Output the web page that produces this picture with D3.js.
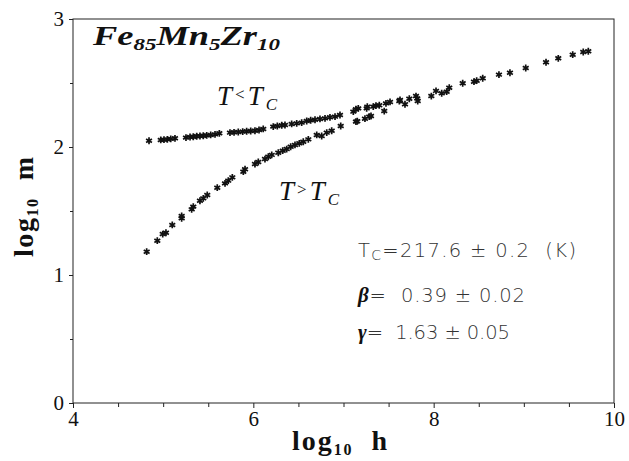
<!DOCTYPE html>
<html><head><meta charset="utf-8">
<script src="https://cdn.jsdelivr.net/npm/d3@7"></script>
<style>body{margin:0;background:#fff}svg{display:block}text{white-space:pre}</style>
</head><body>
<svg id="c" width="629" height="461"></svg>
<script>
// log10 h, log10 m for T<Tc branch
const belowX = [4.843,4.973,5.009,5.046,5.084,5.131,5.253,5.298,5.334,5.372,5.408,5.445,5.483,5.527,5.575,5.623,5.741,5.786,5.833,5.882,5.926,5.971,6.018,6.063,6.110,6.221,6.266,6.315,6.351,6.425,6.481,6.536,6.592,6.636,6.684,6.739,6.795,6.850,6.906,6.961,7.109,7.138,7.164,7.257,7.264,7.330,7.360,7.397,7.471,7.516,7.619,7.627,7.730,7.804,7.818,7.823,7.974,8.026,8.089,8.144,8.173,8.322,8.447,8.477,8.544,8.724,8.846,9.021,9.246,9.382,9.542,9.659,9.715];
const belowY = [2.049,2.055,2.057,2.060,2.063,2.068,2.073,2.078,2.080,2.084,2.086,2.088,2.091,2.094,2.099,2.107,2.112,2.115,2.117,2.120,2.123,2.125,2.127,2.133,2.141,2.159,2.164,2.170,2.172,2.180,2.185,2.190,2.203,2.209,2.213,2.219,2.224,2.232,2.237,2.250,2.276,2.295,2.302,2.302,2.315,2.315,2.323,2.326,2.341,2.352,2.359,2.367,2.377,2.398,2.380,2.359,2.398,2.438,2.420,2.432,2.463,2.498,2.510,2.518,2.537,2.565,2.580,2.617,2.662,2.693,2.721,2.742,2.748];
// T>Tc branch
const aboveX = [4.817,4.935,4.995,5.031,5.101,5.205,5.205,5.316,5.334,5.408,5.445,5.489,5.600,5.686,5.722,5.767,5.889,5.908,6.018,6.055,6.129,6.166,6.204,6.277,6.326,6.370,6.414,6.462,6.510,6.554,6.610,6.703,6.758,6.814,6.869,6.969,7.138,7.153,7.238,7.286,7.305,7.452,7.682];
const aboveY = [1.182,1.268,1.320,1.330,1.391,1.443,1.461,1.513,1.534,1.580,1.599,1.625,1.682,1.716,1.737,1.763,1.807,1.826,1.867,1.883,1.906,1.924,1.938,1.955,1.971,1.984,2.002,2.016,2.029,2.041,2.060,2.094,2.086,2.112,2.127,2.164,2.198,2.201,2.221,2.237,2.242,2.281,2.334];
const xTicks = [4,6,8,10];
const xMinor = [4.5,5,5.5,6.5,7,7.5,8.5,9,9.5];
const yTicks = [0,1,2,3];
const yMinor = [0.5,1.5,2.5];

const svg = d3.select('#c');
const L=73,R=614,T=19,B=403;
const x = d3.scaleLinear().domain([4,10]).range([L,R]);
const y = d3.scaleLinear().domain([0,3]).range([B,T]);
const ink = '#222';
const serif = '"Liberation Serif","DejaVu Serif",serif';

// frame
svg.append('rect').attr('x',L).attr('y',T).attr('width',R-L).attr('height',B-T)
  .attr('fill','none').attr('stroke',ink).attr('stroke-width',1);

function styleAxis(g){
  g.select('.domain').remove();
  g.selectAll('line').attr('stroke',ink);
  g.selectAll('text').attr('font-family',serif).attr('font-size',21).attr('fill','#111');
}
svg.append('g').attr('transform',`translate(0,${B})`)
  .call(d3.axisBottom(x).tickValues(xTicks).tickSize(5).tickPadding(3).tickFormat(d3.format('d')))
  .call(styleAxis);
svg.append('g').attr('transform',`translate(0,${B})`)
  .call(d3.axisBottom(x).tickValues(xMinor).tickSize(4).tickFormat(''))
  .call(styleAxis);
svg.append('g').attr('transform',`translate(${L},0)`)
  .call(d3.axisLeft(y).tickValues(yTicks).tickSize(4).tickPadding(5).tickFormat(d3.format('d')))
  .call(styleAxis);
svg.append('g').attr('transform',`translate(${L},0)`)
  .call(d3.axisLeft(y).tickValues(yMinor).tickSize(3).tickFormat(''))
  .call(styleAxis);

// data
const sym = d3.symbol().type(d3.symbolAsterisk).size(32);
function plot(xs,ys){
  svg.append('g').selectAll('path').data(xs.map((v,i)=>[v,ys[i]])).join('path')
    .attr('transform',d=>`translate(${x(d[0])},${y(d[1])})`)
    .attr('d',sym).attr('fill','none').attr('stroke','#111').attr('stroke-width',1.7);
}
plot(belowX,belowY);
plot(aboveX,aboveY);

// axis titles
const xl = svg.append('text').attr('x',292).attr('y',450)
  .attr('font-family',serif).attr('font-size',28).attr('font-weight','bold').attr('fill','#111')
  .attr('textLength',95).attr('lengthAdjust','spacing');
xl.append('tspan').text('log');
xl.append('tspan').attr('font-size',16).attr('dy',5).text('10');
xl.append('tspan').attr('dy',-5).text('  h');

const yl = svg.append('text').attr('transform','translate(33,257) rotate(-90)')
  .attr('font-family',serif).attr('font-size',28).attr('font-weight','bold').attr('fill','#111')
  .attr('textLength',100).attr('lengthAdjust','spacing');
yl.append('tspan').text('log');
yl.append('tspan').attr('font-size',16).attr('dy',5).text('10');
yl.append('tspan').attr('dy',-5).text('  m');

// title
const ti = svg.append('text').attr('x',93).attr('y',45).attr('font-family',serif)
  .attr('font-style','italic').attr('font-weight','bold').attr('font-size',27).attr('fill','#111')
  .attr('textLength',187).attr('lengthAdjust','spacingAndGlyphs');
ti.append('tspan').text('Fe');
ti.append('tspan').attr('font-size',17).attr('dy',5).text('85');
ti.append('tspan').attr('dy',-5).text('Mn');
ti.append('tspan').attr('font-size',17).attr('dy',5).text('5');
ti.append('tspan').attr('dy',-5).text('Zr');
ti.append('tspan').attr('font-size',17).attr('dy',5).text('10');

function tlabel(px,py,sign){
  const t = svg.append('text').attr('x',px).attr('y',py).attr('font-family',serif)
    .attr('font-style','italic').attr('font-size',27).attr('fill','#111')
    .attr('textLength',60).attr('lengthAdjust','spacing');
  t.append('tspan').text('T');
  t.append('tspan').attr('font-style','normal').attr('font-size',17).attr('dy',-5).text(sign);
  t.append('tspan').attr('dy',5).text('T');
  t.append('tspan').attr('font-size',17).attr('dy',5).text('C');
}
tlabel(217,105,'<');
tlabel(279,200,'>');

// parameters
const sans = '"DejaVu Sans","Liberation Sans",sans-serif';
function ptxt(py,len){
  return svg.append('text').attr('x',358).attr('y',py).attr('font-family',sans)
    .attr('font-weight',200).attr('font-size',19.5).attr('fill','#333')
    .attr('textLength',len).attr('lengthAdjust','spacing');
}
const p1 = ptxt(257,218);
p1.append('tspan').text('T');
p1.append('tspan').attr('font-size',14).attr('dy',3).text('C');
p1.append('tspan').attr('dy',-3).text('=217.6 \u00b1 0.2  (K)');
const p2 = ptxt(302,167);
p2.append('tspan').attr('font-family',serif).attr('font-style','italic').attr('font-weight','bold').attr('font-size',21).attr('fill','#111').text('\u03b2');
p2.append('tspan').text('=  0.39 \u00b1 0.02');
const p3 = ptxt(339,152);
p3.append('tspan').attr('font-family',serif).attr('font-style','italic').attr('font-weight','bold').attr('font-size',21).attr('fill','#111').text('\u03b3');
p3.append('tspan').text('=  1.63 \u00b1 0.05');
</script>
</body></html>
